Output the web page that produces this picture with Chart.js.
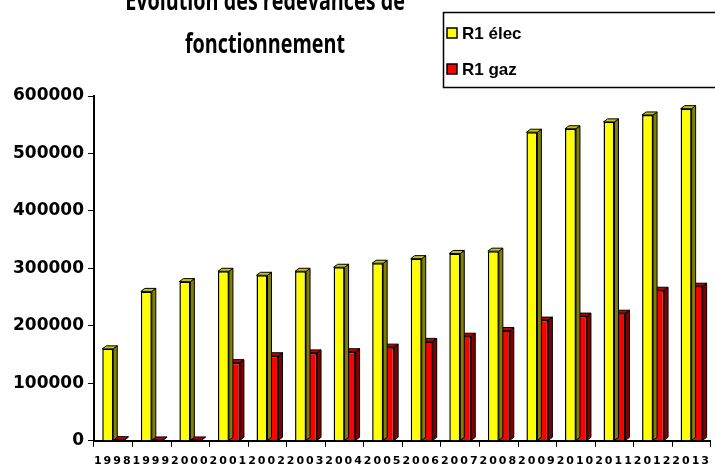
<!DOCTYPE html>
<html>
<head>
<meta charset="utf-8">
<script src="https://cdn.jsdelivr.net/npm/chart.js@4.4.0/dist/chart.umd.min.js"></script>
<style>
  html, body { margin: 0; padding: 0; background: #fff; }
  #wrap { width: 715px; height: 466px; }
</style>
</head>
<body>
<div id="wrap"><canvas id="chart" width="715" height="466"></canvas></div>
<script>
const titleLines = ['Evolution des redevances de', 'fonctionnement'];
const years = ['1998', '1999', '2000', '2001', '2002', '2003', '2004', '2005',
               '2006', '2007', '2008', '2009', '2010', '2011', '2012', '2013'];
const r1Elec = [160000, 260000, 277000, 295000, 288000, 295000, 302000, 309000,
                317000, 326000, 330000, 537000, 543000, 555000, 567000, 578000];
const r1Gaz = [2000, 1500, 1500, 136000, 148000, 153000, 155000, 163000,
               173000, 182000, 192000, 210000, 217000, 222000, 262000, 269000];
const yTicks = [0, 100000, 200000, 300000, 400000, 500000, 600000];

// side and top colours of the pseudo 3D bars
const sideColors = ['#808000', '#800000'];
const topColors = ['#c8c800', '#c00000'];

const bar3d = {
    id: 'bar3d',
    afterDatasetDraw(chart, args) {
        const ctx = chart.ctx;
        const meta = args.meta;
        const d = 4, r = 3;
        ctx.save();
        ctx.lineWidth = 1;
        ctx.strokeStyle = '#000';
        meta.data.forEach(bar => {
            const p = bar.getProps(['x', 'y', 'base', 'width'], true);
            const right = p.x + p.width / 2;
            const left = p.x - p.width / 2;
            ctx.fillStyle = sideColors[args.index];
            ctx.beginPath();
            ctx.moveTo(right, p.y);
            ctx.lineTo(right + d, p.y - r);
            ctx.lineTo(right + d, p.base - r);
            ctx.lineTo(right, p.base);
            ctx.closePath();
            ctx.fill();
            ctx.stroke();
            ctx.fillStyle = topColors[args.index];
            ctx.beginPath();
            ctx.moveTo(left, p.y);
            ctx.lineTo(left + d, p.y - r);
            ctx.lineTo(right + d, p.y - r);
            ctx.lineTo(right, p.y);
            ctx.closePath();
            ctx.fill();
            ctx.stroke();
        });
        ctx.restore();
    }
};

// spaced out x labels, like the original
const spacedLabels = {
    id: 'spacedLabels',
    beforeDraw(chart) {
        const xs = chart.scales.x;
        if (xs._spaced) return;
        const orig = xs.drawLabels;
        xs.drawLabels = function (area) {
            const ctx = this.ctx;
            ctx.save();
            ctx.letterSpacing = '2px';
            orig.call(this, area);
            ctx.restore();
        };
        xs._spaced = true;
    }
};

const titleAndLegend = {
    id: 'titleAndLegend',
    afterDraw(chart) {
        const ctx = chart.ctx;
        ctx.save();
        ctx.fillStyle = '#000';
        ctx.textAlign = 'center';
        ctx.textBaseline = 'alphabetic';
        ctx.font = 'bold 26px "Open Sans", sans-serif';
        // squeeze horizontally to mimic the narrow original face
        ctx.save();
        ctx.translate(265, 0);
        ctx.scale(0.76, 1);
        ctx.fillText(titleLines[0], 0, 10);
        ctx.fillText(titleLines[1], 0, 53);
        ctx.restore();

        ctx.lineWidth = 1.5;
        ctx.strokeStyle = '#000';
        ctx.strokeRect(443.5, 12.5, 300, 75);
        ctx.textAlign = 'left';
        ctx.textBaseline = 'middle';
        ctx.font = 'bold 17px "Liberation Sans", Arial, sans-serif';
        chart.data.datasets.forEach((ds, i) => {
            const cy = 33 + i * 36;
            ctx.fillStyle = ds.backgroundColor;
            ctx.fillRect(447, cy - 5, 10, 10);
            ctx.lineWidth = 1.5;
            ctx.strokeRect(447, cy - 5, 10, 10);
            ctx.fillStyle = '#000';
            ctx.fillText(ds.label, 462, cy + 1);
        });
        ctx.restore();
    }
};

new Chart(document.getElementById('chart').getContext('2d'), {
    type: 'bar',
    data: {
        labels: years,
        datasets: [
            { label: 'R1 élec', data: r1Elec, backgroundColor: '#ffff00',
              borderColor: '#000', borderWidth: 1.5 },
            { label: 'R1 gaz', data: r1Gaz, backgroundColor: '#ff0000',
              borderColor: '#000', borderWidth: 1.5 }
        ]
    },
    options: {
        responsive: false,
        animation: false,
        layout: { padding: { top: 96, left: 9, right: 2, bottom: -10 } },
        datasets: { bar: { categoryPercentage: 0.57, barPercentage: 1 } },
        plugins: {
            legend: { display: false },
            title: { display: false },
            tooltip: { enabled: false }
        },
        scales: {
            x: {
                grid: { drawOnChartArea: false, tickLength: 6, color: '#000' },
                border: { color: '#000', width: 2 },
                ticks: {
                    color: '#000', maxRotation: 0, autoSkip: false, padding: 8,
                    font: { family: '"DejaVu Sans"', size: 11, weight: 'bold' }
                }
            },
            y: {
                min: 0,
                max: 600000,
                afterBuildTicks(axis) { axis.ticks = yTicks.map(v => ({ value: v })); },
                grid: { drawOnChartArea: false, tickLength: 6, color: '#000' },
                border: { color: '#000', width: 2 },
                ticks: {
                    color: '#000', padding: 4,
                    callback: v => String(v),
                    font: { family: '"DejaVu Sans"', size: 17, weight: 'bold' }
                }
            }
        }
    },
    plugins: [bar3d, spacedLabels, titleAndLegend]
});
</script>
</body>
</html>
